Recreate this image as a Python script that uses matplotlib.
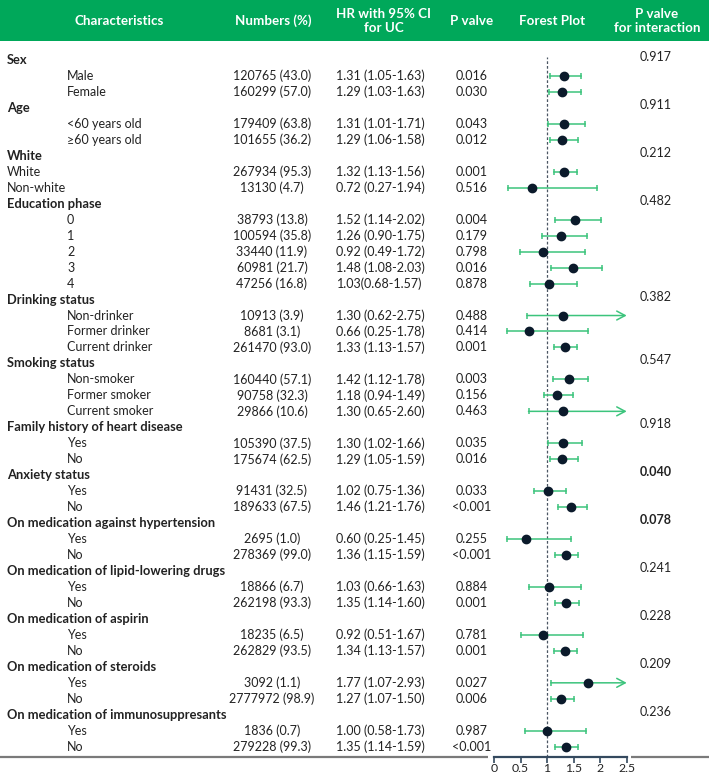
import matplotlib
matplotlib.use("Agg")
import matplotlib.pyplot as plt
from matplotlib.patches import Rectangle

plt.rcParams['font.family'] = ['Lato', 'DejaVu Sans']

labels = ["Sex", "Male", "Female",
          "Age", "<60 years old", "≥60 years old",
          "White", "White", "Non-white",
          "Education phase", "0", "1", "2", "3", "4",
          "Drinking status", "Non-drinker", "Former drinker", "Current drinker",
          "Smoking status", "Non-smoker", "Former smoker", "Current smoker",
          "Family history of heart disease", "Yes", "No",
          "Anxiety status", "Yes", "No",
          "On medication against hypertension", "Yes", "No",
          "On medication of lipid-lowering drugs", "Yes", "No",
          "On medication of aspirin", "Yes", "No",
          "On medication of steroids", "Yes", "No",
          "On medication of immunosuppresants", "Yes", "No"]
row_type = ["h", "s", "s",
            "h", "s", "s",
            "h", "f", "f",
            "h", "s", "s", "s", "s", "s",
            "h", "s", "s", "s",
            "h", "s", "s", "s",
            "h", "s", "s",
            "h", "s", "s",
            "h", "s", "s",
            "h", "s", "s",
            "h", "s", "s",
            "h", "s", "s",
            "h", "s", "s"]
numbers = ["", "120765 (43.0)", "160299 (57.0)",
           "", "179409 (63.8)", "101655 (36.2)",
           "", "267934 (95.3)", "13130 (4.7)",
           "", "38793 (13.8)", "100594 (35.8)", "33440 (11.9)", "60981 (21.7)", "47256 (16.8)",
           "", "10913 (3.9)", "8681 (3.1)", "261470 (93.0)",
           "", "160440 (57.1)", "90758 (32.3)", "29866 (10.6)",
           "", "105390 (37.5)", "175674 (62.5)",
           "", "91431 (32.5)", "189633 (67.5)",
           "", "2695 (1.0)", "278369 (99.0)",
           "", "18866 (6.7)", "262198 (93.3)",
           "", "18235 (6.5)", "262829 (93.5)",
           "", "3092 (1.1)", "2777972 (98.9)",
           "", "1836 (0.7)", "279228 (99.3)"]
hr_text = ["", "1.31 (1.05-1.63)", "1.29 (1.03-1.63)",
           "", "1.31 (1.01-1.71)", "1.29 (1.06-1.58)",
           "", "1.32 (1.13-1.56)", "0.72 (0.27-1.94)",
           "", "1.52 (1.14-2.02)", "1.26 (0.90-1.75)", "0.92 (0.49-1.72)", "1.48 (1.08-2.03)", "1.03(0.68-1.57)",
           "", "1.30 (0.62-2.75)", "0.66 (0.25-1.78)", "1.33 (1.13-1.57)",
           "", "1.42 (1.12-1.78)", "1.18 (0.94-1.49)", "1.30 (0.65-2.60)",
           "", "1.30 (1.02-1.66)", "1.29 (1.05-1.59)",
           "", "1.02 (0.75-1.36)", "1.46 (1.21-1.76)",
           "", "0.60 (0.25-1.45)", "1.36 (1.15-1.59)",
           "", "1.03 (0.66-1.63)", "1.35 (1.14-1.60)",
           "", "0.92 (0.51-1.67)", "1.34 (1.13-1.57)",
           "", "1.77 (1.07-2.93)", "1.27 (1.07-1.50)",
           "", "1.00 (0.58-1.73)", "1.35 (1.14-1.59)"]
hr = [None, 1.31, 1.29, None, 1.31, 1.29, None, 1.32, 0.72,
      None, 1.52, 1.26, 0.92, 1.48, 1.03,
      None, 1.30, 0.66, 1.33, None, 1.42, 1.18, 1.30,
      None, 1.30, 1.29, None, 1.02, 1.46, None, 0.60, 1.36,
      None, 1.03, 1.35, None, 0.92, 1.34, None, 1.77, 1.27, None, 1.00, 1.35]
lo = [None, 1.05, 1.03, None, 1.01, 1.06, None, 1.13, 0.27,
      None, 1.14, 0.90, 0.49, 1.08, 0.68,
      None, 0.62, 0.25, 1.13, None, 1.12, 0.94, 0.65,
      None, 1.02, 1.05, None, 0.75, 1.21, None, 0.25, 1.15,
      None, 0.66, 1.14, None, 0.51, 1.13, None, 1.07, 1.07, None, 0.58, 1.14]
hi = [None, 1.63, 1.63, None, 1.71, 1.58, None, 1.56, 1.94,
      None, 2.02, 1.75, 1.72, 2.03, 1.57,
      None, 2.75, 1.78, 1.57, None, 1.78, 1.49, 2.60,
      None, 1.66, 1.59, None, 1.36, 1.76, None, 1.45, 1.59,
      None, 1.63, 1.60, None, 1.67, 1.57, None, 2.93, 1.50, None, 1.73, 1.59]
pvals = ["", "0.016", "0.030", "", "0.043", "0.012", "", "0.001", "0.516",
         "", "0.004", "0.179", "0.798", "0.016", "0.878",
         "", "0.488", "0.414", "0.001", "", "0.003", "0.156", "0.463",
         "", "0.035", "0.016", "", "0.033", "<0.001", "", "0.255", "<0.001",
         "", "0.884", "0.001", "", "0.781", "0.001", "", "0.027", "0.006", "", "0.987", "<0.001"]
p_inter = ["0.917", "", "", "0.911", "", "", "0.212", "", "",
           "0.482", "", "", "", "", "",
           "0.382", "", "", "", "0.547", "", "", "",
           "0.918", "", "", "0.040", "", "", "0.078", "", "",
           "0.241", "", "", "0.228", "", "", "0.209", "", "", "0.236", "", ""]
p_inter_bold = ["0.040", "0.078"]
headers = ["Characteristics", "Numbers (%)", "HR with 95% CI\nfor UC", "P valve",
           "Forest Plot", "P valve\nfor interaction"]
xticks = [0, 0.5, 1, 1.5, 2, 2.5]
xtick_labels = ["0", "0.5", "1", "1.5", "2", "2.5"]

W, H = 709, 774
GREEN = "#00a85a"
CI_COL = "#3cc47c"
DOT = "#0b1a2b"
TXT = "#222222"
AXC = "#34495e"
FS = 9.0
HFS = 9.6

fig = plt.figure(figsize=(W / 100, H / 100), dpi=100)
bg = fig.add_axes([0, 0, 1, 1])
bg.set_xlim(0, W)
bg.set_ylim(H, 0)
bg.axis("off")

bg.add_patch(Rectangle((0, 0), W, 41, color=GREEN, lw=0))
hx = [119, 273, 384, 472, 552, 657]
for x, t in zip(hx, headers):
    bg.text(x, 21, t, ha="center", va="center", color="white",
            fontsize=HFS, fontweight="bold", linespacing=1.1)

y0, dy = 60, 15.97
for i, lab in enumerate(labels):
    y = y0 + dy * i
    if row_type[i] == "h":
        bg.text(7, y, lab, ha="left", va="center", fontsize=FS + 0.3,
                fontweight="bold", color=TXT)
    elif row_type[i] == "f":
        bg.text(7, y, lab, ha="left", va="center", fontsize=FS, color=TXT)
    else:
        bg.text(67, y, lab, ha="left", va="center", fontsize=FS, color=TXT)
    if numbers[i]:
        bg.text(272, y, numbers[i], ha="center", va="center", fontsize=FS, color=TXT)
    if hr_text[i]:
        bg.text(380, y, hr_text[i], ha="center", va="center", fontsize=FS, color=TXT)
    if pvals[i]:
        bg.text(472, y, pvals[i], ha="center", va="center", fontsize=FS, color=TXT)
    if p_inter[i]:
        bg.text(656, y - 3, p_inter[i], ha="center", va="center", fontsize=FS,
                color=TXT, fontweight="bold" if p_inter[i] in p_inter_bold else "normal")

# bottom gray rule
ax_y = 756.7
bg.plot([0, 488], [ax_y, ax_y], color="#7a7a7a", lw=1.6, solid_capstyle="butt")
bg.plot([631, W], [ax_y, ax_y], color="#7a7a7a", lw=1.6, solid_capstyle="butt")

# forest axes
x0p, x1p = 494, 626.7
top_p = 45
ax = fig.add_axes([x0p / W, (H - ax_y) / H, (x1p - x0p) / W, (ax_y - top_p) / H])
ax.set_xlim(0, 2.5)
ax.set_ylim((ax_y - y0) / dy, (top_p - y0) / dy)
ax.patch.set_alpha(0)
for s in ["top", "left", "right"]:
    ax.spines[s].set_visible(False)
ax.spines["bottom"].set_color(AXC)
ax.spines["bottom"].set_linewidth(1.6)
ax.set_yticks([])
ax.set_xticks(xticks)
ax.set_xticklabels(xtick_labels, fontsize=8.8, color=TXT)
ax.tick_params(axis="x", direction="out", length=4.0, width=1.2, color=AXC, pad=0.2)

ax.plot([1, 1], [(ax_y - y0) / dy, (57 - y0) / dy], ls=(0, (2.2, 1.6)),
        color="#4b5663", lw=0.9, zorder=1)

for i in range(len(labels)):
    if hr[i] is None:
        continue
    l, h, m = lo[i], hi[i], hr[i]
    if h > 2.5:
        ax.annotate("", xy=(2.5, i), xytext=(l, i),
                    arrowprops=dict(arrowstyle="->,head_length=0.6,head_width=0.32",
                                    color=CI_COL, lw=1.1, shrinkA=0, shrinkB=0),
                    annotation_clip=False)
        ax.plot([l], [i], marker="|", color=CI_COL, ms=4.5, mew=1.1)
    else:
        ax.plot([l, h], [i, i], color=CI_COL, lw=1.1, zorder=2)
        ax.plot([l, h], [i, i], ls="none", marker="|", color=CI_COL, ms=4.5, mew=1.1)
    ax.plot([m], [i], marker="o", color=DOT, ms=6.0, zorder=5, clip_on=False)

fig.savefig("out.png", dpi=100)
